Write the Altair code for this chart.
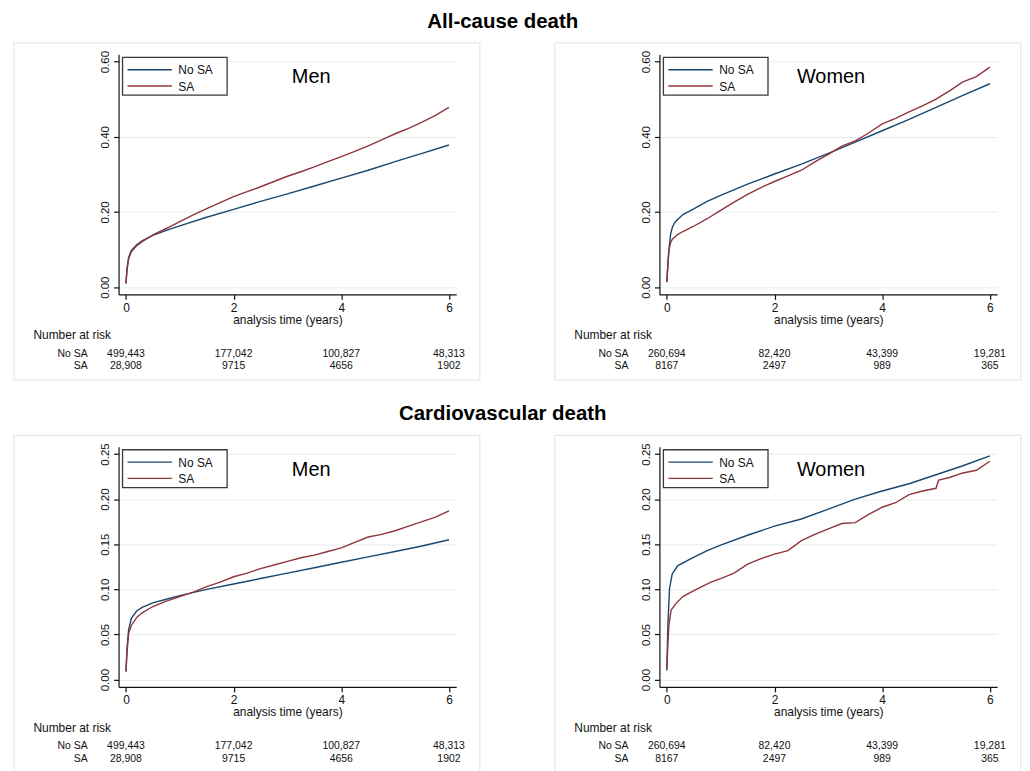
import altair as alt
import pandas as pd

FONT = "Liberation Sans"
SERIES = ["No SA", "SA"]
COLORS = ["#1a476f", "#90353b"]
FRAME_COLOR = "#e3eaec"
GRID_COLOR = "#e6edef"
INK = "#111111"

SECTION_TITLES = ["All-cause death", "Cardiovascular death"]
SEX_LABELS = ["Men", "Women"]
X_TICKS = [0, 2, 4, 6]
Y_TICKS_ALL = [0.0, 0.2, 0.4, 0.6]
Y_TICKS_CV = [0.0, 0.05, 0.10, 0.15, 0.20, 0.25]
X_TITLE = "analysis time (years)"
RISK_TITLE = "Number at risk"

# Number at risk at years 0, 2, 4, 6
RISK_MEN_NOSA = [499443, 177042, 100827, 48313]
RISK_MEN_SA = [28908, 9715, 4656, 1902]
RISK_WOMEN_NOSA = [260694, 82420, 43399, 19281]
RISK_WOMEN_SA = [8167, 2497, 989, 365]

# All-cause death, men
T_A_NOSA = [0, 0.02, 0.05, 0.1, 0.2, 0.3, 0.5, 0.75, 1.0, 1.5, 2.0, 2.5, 3.0, 3.5, 4.0, 4.5, 5.0, 5.5, 6.0]
V_A_NOSA = [0.010, 0.050, 0.079, 0.097, 0.113, 0.123, 0.138, 0.151, 0.163, 0.186, 0.207, 0.228, 0.248, 0.269, 0.290, 0.311, 0.334, 0.356, 0.378]
T_A_SA = [0, 0.02, 0.05, 0.1, 0.2, 0.3, 0.5, 0.75, 1.0, 1.25, 1.5, 1.75, 2.0, 2.25, 2.5, 2.75, 3.0, 3.25, 3.5, 3.75, 4.0, 4.25, 4.5, 4.75, 5.0, 5.25, 5.5, 5.75, 6.0]
V_A_SA = [0.010, 0.045, 0.075, 0.094, 0.110, 0.121, 0.139, 0.156, 0.174, 0.192, 0.209, 0.225, 0.241, 0.254, 0.267, 0.281, 0.295, 0.307, 0.320, 0.334, 0.347, 0.361, 0.376, 0.392, 0.408, 0.422, 0.439, 0.457, 0.478]

# All-cause death, women
T_B_NOSA = [0, 0.02, 0.04, 0.07, 0.1, 0.15, 0.2, 0.3, 0.5, 0.75, 1.0, 1.5, 2.0, 2.5, 3.0, 3.5, 4.0, 4.5, 5.0, 5.5, 6.0]
V_B_NOSA = [0.015, 0.060, 0.100, 0.140, 0.158, 0.172, 0.180, 0.193, 0.208, 0.228, 0.244, 0.274, 0.301, 0.327, 0.356, 0.386, 0.416, 0.446, 0.478, 0.510, 0.541]
T_B_SA = [0, 0.02, 0.04, 0.07, 0.1, 0.2, 0.3, 0.5, 0.75, 1.0, 1.25, 1.5, 1.75, 2.0, 2.25, 2.5, 2.75, 3.0, 3.25, 3.5, 3.75, 4.0, 4.25, 4.5, 4.75, 5.0, 5.25, 5.5, 5.75, 6.0]
V_B_SA = [0.013, 0.060, 0.100, 0.118, 0.127, 0.140, 0.148, 0.162, 0.182, 0.204, 0.226, 0.247, 0.265, 0.281, 0.296, 0.311, 0.333, 0.353, 0.375, 0.389, 0.410, 0.434, 0.449, 0.466, 0.482, 0.500, 0.522, 0.546, 0.560, 0.585]

# Cardiovascular death, men
T_C_NOSA = [0, 0.02, 0.05, 0.1, 0.2, 0.3, 0.5, 0.75, 1.0, 1.5, 2.0, 2.5, 3.0, 3.5, 4.0, 4.5, 5.0, 5.5, 6.0]
V_C_NOSA = [0.009, 0.035, 0.055, 0.068, 0.076, 0.080, 0.085, 0.089, 0.093, 0.100, 0.106, 0.112, 0.118, 0.124, 0.130, 0.136, 0.142, 0.148, 0.155]
T_C_SA = [0, 0.02, 0.05, 0.1, 0.2, 0.3, 0.5, 0.75, 1.0, 1.25, 1.5, 1.75, 2.0, 2.25, 2.5, 2.75, 3.0, 3.25, 3.5, 3.75, 4.0, 4.25, 4.5, 4.75, 5.0, 5.25, 5.5, 5.75, 6.0]
V_C_SA = [0.009, 0.030, 0.051, 0.060, 0.069, 0.074, 0.081, 0.087, 0.092, 0.097, 0.103, 0.108, 0.114, 0.118, 0.123, 0.127, 0.131, 0.135, 0.138, 0.142, 0.146, 0.152, 0.158, 0.161, 0.165, 0.170, 0.175, 0.180, 0.187]

# Cardiovascular death, women
T_D_NOSA = [0, 0.02, 0.05, 0.1, 0.2, 0.45, 0.75, 1.0, 1.5, 2.0, 2.5, 3.0, 3.5, 4.0, 4.5, 5.0, 5.5, 6.0]
V_D_NOSA = [0.010, 0.060, 0.101, 0.117, 0.126, 0.134, 0.143, 0.149, 0.160, 0.170, 0.178, 0.189, 0.200, 0.209, 0.217, 0.227, 0.237, 0.248]
T_D_SA = [0, 0.02, 0.04, 0.08, 0.17, 0.3, 0.45, 0.65, 0.82, 1.0, 1.25, 1.5, 1.75, 2.0, 2.25, 2.5, 2.75, 3.0, 3.25, 3.5, 3.75, 4.0, 4.25, 4.5, 4.75, 5.0, 5.05, 5.25, 5.5, 5.75, 6.0]
V_D_SA = [0.012, 0.040, 0.061, 0.077, 0.0845, 0.092, 0.097, 0.103, 0.108, 0.112, 0.118, 0.128, 0.134, 0.139, 0.143, 0.154, 0.161, 0.167, 0.173, 0.174, 0.183, 0.191, 0.196, 0.205, 0.209, 0.212, 0.221, 0.224, 0.229, 0.232, 0.242]

W, H = 339, 241
X_DOMAIN = [-0.137, 6.135]
ONE = pd.DataFrame({"k": [0]})


def fmt(n):
    return f"{n:,}" if n >= 10000 else str(n)


def build_panel(section_title, sex, yticks, curves, risk, corner):
    ymax = yticks[-1]
    pad = ymax * 7.25 / (H - 14.5)
    xenc = alt.X(
        "t:Q",
        scale=alt.Scale(domain=X_DOMAIN, nice=False, zero=False),
        axis=alt.Axis(values=X_TICKS, format="d", title=X_TITLE, grid=False,
                      labelFlush=False, labelOverlap=False),
    )
    yenc = alt.Y(
        "v:Q",
        scale=alt.Scale(domain=[-pad, ymax + pad], nice=False, zero=False),
        axis=alt.Axis(values=yticks, format=".2f", title=None, grid=True,
                      labelAngle=270, labelAlign="center", labelBaseline="bottom",
                      labelFlush=False, labelOverlap=False, labelFontSize=11.5),
    )
    color = alt.Color("s:N", scale=alt.Scale(domain=SERIES, range=COLORS), legend=None)

    rows = []
    for name, (ts, vs) in zip(SERIES, curves):
        for t, v in zip(ts, vs):
            rows.append({"t": t, "v": v, "s": name})
    df = pd.DataFrame(rows)

    layers = []
    # light panel frame
    layers.append(
        alt.Chart(ONE).mark_rect(fillOpacity=0, stroke=FRAME_COLOR, strokeWidth=1.2).encode(
            x=alt.value(-105), x2=alt.value(362.7), y=alt.value(-11.5), y2=alt.value(327)
        )
    )
    if corner:
        layers.append(
            alt.Chart(ONE).mark_rect(color="white", opacity=0).encode(
                x=alt.value(-110.3), x2=alt.value(-108), y=alt.value(-44.5), y2=alt.value(-42)
            )
        )
    layers.append(
        alt.Chart(df).mark_line(strokeWidth=1.4).encode(x=xenc, y=yenc, color=color)
    )
    # legend box
    layers.append(
        alt.Chart(ONE).mark_rect(fill="white", stroke="#3a3a3a", strokeWidth=1.3).encode(
            x=alt.value(4), x2=alt.value(109), y=alt.value(3), y2=alt.value(41)
        )
    )
    for i, (name, col) in enumerate(zip(SERIES, COLORS)):
        yy = 15.5 + 16.3 * i
        layers.append(
            alt.Chart(ONE).mark_rule(color=col, strokeWidth=1.3).encode(
                x=alt.value(9), x2=alt.value(53.5), y=alt.value(yy)
            )
        )
        layers.append(
            alt.Chart(pd.DataFrame({"lab": [name]})).mark_text(
                align="left", baseline="middle", fontSize=12, font=FONT, color=INK
            ).encode(x=alt.value(60), y=alt.value(yy + 0.7), text="lab:N")
        )
    # sex label
    sx = 193.4 if sex == "Men" else 172.3
    layers.append(
        alt.Chart(pd.DataFrame({"lab": [sex]})).mark_text(
            align="center", baseline="middle", fontSize=20, font=FONT, color="black"
        ).encode(x=alt.value(sx), y=alt.value(23), text="lab:N")
    )
    # risk table
    layers.append(
        alt.Chart(pd.DataFrame({"lab": [RISK_TITLE]})).mark_text(
            align="left", baseline="middle", fontSize=12, font=FONT, color=INK
        ).encode(x=alt.value(-85.5), y=alt.value(282.2), text="lab:N")
    )
    for i, (name, counts) in enumerate(zip(SERIES, risk)):
        yy = 300.8 + 12.3 * i
        layers.append(
            alt.Chart(pd.DataFrame({"lab": [name]})).mark_text(
                align="right", baseline="middle", fontSize=10.5, font=FONT, color=INK
            ).encode(x=alt.value(-31), y=alt.value(yy), text="lab:N")
        )
        rdf = pd.DataFrame({"t": X_TICKS, "lab": [fmt(c) for c in counts]})
        layers.append(
            alt.Chart(rdf).mark_text(
                align="center", baseline="middle", fontSize=10.5, font=FONT, color=INK
            ).encode(x=xenc, y=alt.value(yy), text="lab:N")
        )
    if section_title:
        layers.append(
            alt.Chart(pd.DataFrame({"lab": [section_title]})).mark_text(
                align="center", baseline="alphabetic", fontSize=20.5, fontWeight="bold",
                font=FONT, color="black"
            ).encode(x=alt.value(385.7), y=alt.value(-26.5), text="lab:N")
        )
    return alt.layer(*layers).properties(width=W, height=H)


p1 = build_panel(SECTION_TITLES[0], SEX_LABELS[0], Y_TICKS_ALL,
                 [(T_A_NOSA, V_A_NOSA), (T_A_SA, V_A_SA)], [RISK_MEN_NOSA, RISK_MEN_SA], True)
p2 = build_panel(None, SEX_LABELS[1], Y_TICKS_ALL,
                 [(T_B_NOSA, V_B_NOSA), (T_B_SA, V_B_SA)], [RISK_WOMEN_NOSA, RISK_WOMEN_SA], False)
p3 = build_panel(SECTION_TITLES[1], SEX_LABELS[0], Y_TICKS_CV,
                 [(T_C_NOSA, V_C_NOSA), (T_C_SA, V_C_SA)], [RISK_MEN_NOSA, RISK_MEN_SA], False)
p4 = build_panel(None, SEX_LABELS[1], Y_TICKS_CV,
                 [(T_D_NOSA, V_D_NOSA), (T_D_SA, V_D_SA)], [RISK_WOMEN_NOSA, RISK_WOMEN_SA], False)

chart = alt.concat(
    p1, p2, p3, p4, columns=2, spacing={"row": 153, "column": 204}, bounds="flush"
).properties(padding=0).configure_view(strokeWidth=0).configure_axis(
    domainColor=INK, domainWidth=1.2, tickColor=INK, tickWidth=1.2, tickSize=5,
    labelColor=INK, labelFont=FONT, labelFontSize=12, labelPadding=3,
    titleFont=FONT, titleFontSize=12, titleFontWeight="normal", titleColor=INK, titlePadding=1,
    gridColor=GRID_COLOR, gridWidth=1,
)

chart.save("out.html", embed_options={"renderer": "svg", "actions": False})
